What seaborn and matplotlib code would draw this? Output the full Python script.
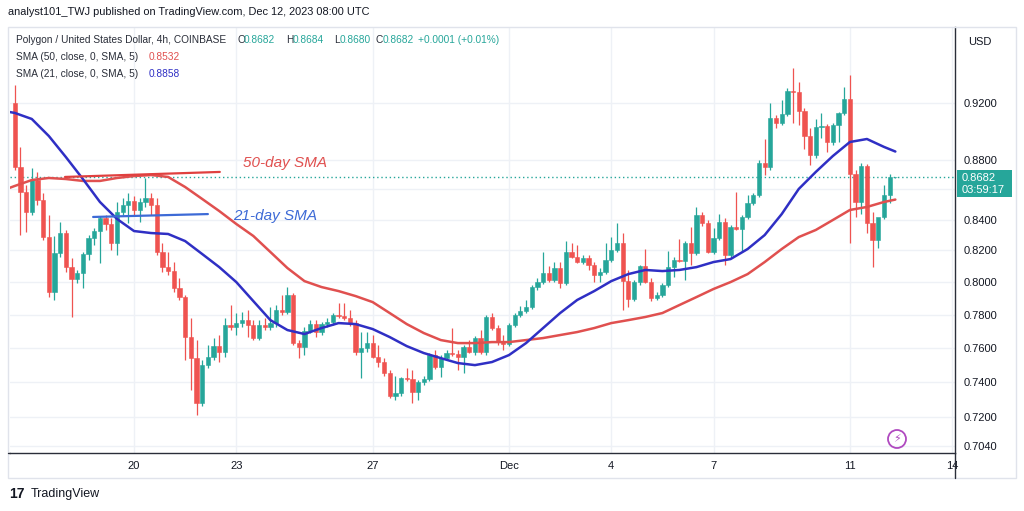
import numpy as np
import pandas as pd
import matplotlib
matplotlib.use("Agg")
import matplotlib.pyplot as plt
import seaborn as sns
from matplotlib.patches import Rectangle, Ellipse
from matplotlib.lines import Line2D

sns.set_theme(style="white")
plt.rcParams['font.family'] = ['Liberation Sans', 'DejaVu Sans']

# ---------------- data (4h candles, MATIC/USD) ----------------
open_ = [0.9200, 0.8752, 0.8583, 0.8450, 0.8663, 0.8529, 0.8286, 0.7938, 0.8183, 0.8312,
         0.8094, 0.8019, 0.8057, 0.8177, 0.8280, 0.8325, 0.8410, 0.8371, 0.8248, 0.8450,
         0.8496, 0.8522, 0.8463, 0.8516, 0.8542, 0.8496, 0.8190, 0.8094, 0.8069, 0.7963,
         0.7907, 0.7664, 0.7539, 0.7279, 0.7498, 0.7545, 0.7610, 0.7575, 0.7736, 0.7724,
         0.7748, 0.7766, 0.7736, 0.7658, 0.7736, 0.7724, 0.7748, 0.7827, 0.7815, 0.7920,
         0.7628, 0.7604, 0.7700, 0.7742, 0.7694, 0.7742, 0.7754, 0.7797, 0.7791, 0.7779,
         0.7748, 0.7575, 0.7599, 0.7628, 0.7545, 0.7516, 0.7452, 0.7319, 0.7336, 0.7423,
         0.7417, 0.7342, 0.7399, 0.7417, 0.7557, 0.7487, 0.7539, 0.7569, 0.7563, 0.7545,
         0.7604, 0.7575, 0.7658, 0.7575, 0.7785, 0.7718, 0.7634, 0.7622, 0.7736, 0.7797,
         0.7821, 0.7846, 0.7969, 0.8000, 0.8057, 0.8013, 0.8088, 0.7994, 0.8190, 0.8158,
         0.8126, 0.8152, 0.8107, 0.8044, 0.8063, 0.8139, 0.8203, 0.8248, 0.8006, 0.7895,
         0.8000, 0.8101, 0.8000, 0.7901, 0.7920, 0.7982, 0.8094, 0.8139, 0.8132, 0.8248,
         0.8183, 0.8430, 0.8377, 0.8190, 0.8280, 0.8384, 0.8171, 0.8351, 0.8338, 0.8417,
         0.8509, 0.8562, 0.8779, 0.8752, 0.9093, 0.9058, 0.9121, 0.9287, 0.9279, 0.9143,
         0.8966, 0.8834, 0.9029, 0.9036, 0.8924, 0.9043, 0.9129, 0.9229, 0.8704, 0.8516,
         0.8759, 0.8377, 0.8267, 0.8417, 0.8562, 0.8682]
high_ = [0.9330, 0.8890, 0.8630, 0.8745, 0.8718, 0.8576, 0.8430, 0.8293, 0.8384, 0.8332,
         0.8152, 0.8076, 0.8190, 0.8299, 0.8345, 0.8423, 0.8430, 0.8410, 0.8516, 0.8542,
         0.8576, 0.8556, 0.8542, 0.8677, 0.8576, 0.8542, 0.8248, 0.8190, 0.8126, 0.8025,
         0.7920, 0.7779, 0.7646, 0.7528, 0.7616, 0.7658, 0.7676, 0.7779, 0.7858, 0.7809,
         0.7815, 0.7827, 0.7766, 0.7766, 0.7779, 0.7846, 0.7858, 0.7920, 0.7969, 0.7932,
         0.7646, 0.7724, 0.7766, 0.7766, 0.7754, 0.7779, 0.7809, 0.7870, 0.7870, 0.7827,
         0.7766, 0.7694, 0.7694, 0.7676, 0.7616, 0.7539, 0.7469, 0.7434, 0.7428, 0.7481,
         0.7469, 0.7411, 0.7434, 0.7569, 0.7587, 0.7557, 0.7587, 0.7718, 0.7587, 0.7616,
         0.7646, 0.7670, 0.7706, 0.7797, 0.7809, 0.7736, 0.7676, 0.7748, 0.7809, 0.7852,
         0.7889, 0.7982, 0.8025, 0.8190, 0.8101, 0.8126, 0.8126, 0.8260, 0.8248, 0.8235,
         0.8171, 0.8171, 0.8126, 0.8088, 0.8248, 0.8286, 0.8377, 0.8312, 0.8076, 0.8013,
         0.8107, 0.8209, 0.8025, 0.7938, 0.7994, 0.8196, 0.8158, 0.8273, 0.8260, 0.8351,
         0.8483, 0.8450, 0.8397, 0.8345, 0.8436, 0.8410, 0.8364, 0.8583, 0.8430, 0.8562,
         0.8576, 0.8800, 0.8945, 0.9200, 0.9114, 0.9222, 0.9308, 0.9455, 0.9352, 0.9164,
         0.9022, 0.9086, 0.9129, 0.9050, 0.9058, 0.9136, 0.9316, 0.9403, 0.8731, 0.8779,
         0.8772, 0.8450, 0.8299, 0.8630, 0.8704, 0.8684]
low_ = [0.8731, 0.8299, 0.8319, 0.8430, 0.8496, 0.8267, 0.7907, 0.7889, 0.8158, 0.8063,
        0.7785, 0.7994, 0.7963, 0.8139, 0.8235, 0.8120, 0.8332, 0.8203, 0.8171, 0.8430,
        0.8377, 0.8430, 0.8384, 0.8483, 0.8430, 0.8171, 0.8063, 0.8044, 0.7938, 0.7889,
        0.7528, 0.7353, 0.7211, 0.7262, 0.7481, 0.7528, 0.7516, 0.7545, 0.7706, 0.7676,
        0.7724, 0.7664, 0.7646, 0.7646, 0.7706, 0.7706, 0.7724, 0.7797, 0.7803, 0.7616,
        0.7539, 0.7557, 0.7688, 0.7664, 0.7676, 0.7724, 0.7736, 0.7779, 0.7766, 0.7730,
        0.7557, 0.7423, 0.7575, 0.7539, 0.7487, 0.7434, 0.7308, 0.7296, 0.7319, 0.7405,
        0.7279, 0.7296, 0.7382, 0.7405, 0.7475, 0.7428, 0.7528, 0.7551, 0.7469, 0.7452,
        0.7569, 0.7557, 0.7563, 0.7557, 0.7706, 0.7616, 0.7587, 0.7610, 0.7724, 0.7785,
        0.7809, 0.7833, 0.7950, 0.7988, 0.8000, 0.8000, 0.7963, 0.7982, 0.8152, 0.8120,
        0.8113, 0.8076, 0.8000, 0.8000, 0.8050, 0.8126, 0.8190, 0.7827, 0.7846, 0.7882,
        0.7982, 0.7994, 0.7882, 0.7889, 0.7907, 0.7969, 0.8032, 0.8126, 0.8013, 0.8107,
        0.8171, 0.8358, 0.8183, 0.8177, 0.8267, 0.8107, 0.8152, 0.8332, 0.8190, 0.8404,
        0.8496, 0.8549, 0.8697, 0.8731, 0.9022, 0.9043, 0.9107, 0.9058, 0.9043, 0.8876,
        0.8765, 0.8813, 0.8952, 0.8855, 0.8903, 0.8924, 0.9114, 0.8248, 0.8417, 0.8436,
        0.8312, 0.8094, 0.8216, 0.8404, 0.8509, 0.8680]
close_ = [0.8752, 0.8583, 0.8450, 0.8663, 0.8529, 0.8286, 0.7938, 0.8183, 0.8312, 0.8094,
          0.8019, 0.8057, 0.8177, 0.8280, 0.8325, 0.8410, 0.8371, 0.8248, 0.8450, 0.8496,
          0.8522, 0.8463, 0.8516, 0.8542, 0.8496, 0.8190, 0.8094, 0.8069, 0.7963, 0.7907,
          0.7664, 0.7539, 0.7279, 0.7498, 0.7545, 0.7610, 0.7575, 0.7736, 0.7724, 0.7748,
          0.7766, 0.7736, 0.7658, 0.7736, 0.7724, 0.7748, 0.7827, 0.7815, 0.7920, 0.7628,
          0.7604, 0.7700, 0.7742, 0.7694, 0.7742, 0.7754, 0.7797, 0.7791, 0.7779, 0.7748,
          0.7575, 0.7599, 0.7628, 0.7545, 0.7516, 0.7452, 0.7319, 0.7336, 0.7423, 0.7417,
          0.7342, 0.7399, 0.7417, 0.7557, 0.7487, 0.7539, 0.7569, 0.7563, 0.7545, 0.7604,
          0.7575, 0.7658, 0.7575, 0.7785, 0.7718, 0.7634, 0.7622, 0.7736, 0.7797, 0.7821,
          0.7846, 0.7969, 0.8000, 0.8057, 0.8013, 0.8088, 0.7994, 0.8190, 0.8158, 0.8126,
          0.8152, 0.8107, 0.8044, 0.8063, 0.8139, 0.8203, 0.8248, 0.8006, 0.7895, 0.8000,
          0.8101, 0.8000, 0.7901, 0.7920, 0.7982, 0.8094, 0.8139, 0.8132, 0.8248, 0.8183,
          0.8430, 0.8377, 0.8190, 0.8280, 0.8384, 0.8171, 0.8351, 0.8338, 0.8417, 0.8509,
          0.8562, 0.8779, 0.8752, 0.9093, 0.9058, 0.9121, 0.9287, 0.9279, 0.9143, 0.8966,
          0.8834, 0.9029, 0.9036, 0.8924, 0.9043, 0.9129, 0.9229, 0.8704, 0.8516, 0.8759,
          0.8377, 0.8267, 0.8417, 0.8562, 0.8682, 0.8682]

# moving averages (candle index -> value)
sma_idx = [-1, 0, 3, 6, 9, 12, 15, 18, 21, 24, 27, 30, 33, 36, 39, 42, 45, 48, 51, 54,
           57, 60, 63, 66, 69, 72, 75, 78, 81, 84, 87, 90, 93, 96, 99, 102, 105, 108, 111,
           114, 117, 120, 123, 126, 129, 132, 135, 138, 141, 144, 147, 150, 153, 155]
sma21 = [0.9136, 0.9129, 0.9086, 0.8966, 0.8820, 0.8670, 0.8516, 0.8404, 0.8325, 0.8312,
         0.8306, 0.8260, 0.8177, 0.8094, 0.8000, 0.7882, 0.7766, 0.7706, 0.7682, 0.7718,
         0.7748, 0.7742, 0.7712, 0.7664, 0.7610, 0.7569, 0.7539, 0.7510, 0.7498, 0.7516,
         0.7557, 0.7628, 0.7718, 0.7809, 0.7889, 0.7944, 0.8006, 0.8050, 0.8076, 0.8069,
         0.8076, 0.8094, 0.8126, 0.8145, 0.8209, 0.8299, 0.8436, 0.8603, 0.8718, 0.8827,
         0.8924, 0.8945, 0.8890, 0.8858]
sma50 = [0.8609, 0.8623, 0.8663, 0.8677, 0.8670, 0.8657, 0.8657, 0.8677, 0.8690, 0.8697,
         0.8684, 0.8616, 0.8536, 0.8456, 0.8371, 0.8293, 0.8190, 0.8088, 0.8006, 0.7969,
         0.7944, 0.7913, 0.7876, 0.7809, 0.7742, 0.7688, 0.7646, 0.7628, 0.7628, 0.7634,
         0.7634, 0.7646, 0.7658, 0.7676, 0.7694, 0.7718, 0.7748, 0.7766, 0.7785, 0.7809,
         0.7858, 0.7907, 0.7957, 0.8000, 0.8050, 0.8126, 0.8209, 0.8286, 0.8332, 0.8397,
         0.8463, 0.8483, 0.8516, 0.8532]

# hand-drawn annotation lines (candle index, price)
ann50_x = [8.85, 36.1]
ann50_y = [0.8684, 0.8718]
ann21_x = [13.8, 34.0]
ann21_y = [0.8417, 0.8436]

date_ticks = [21, 39, 63, 87, 105, 123, 147, 165]
date_labels = ["20", "23", "27", "Dec", "4", "7", "11", "14"]
price_ticks = [0.7040, 0.72, 0.74, 0.76, 0.78, 0.80, 0.82, 0.84, 0.86, 0.88, 0.92]
price_labels = ["0.7040", "0.7200", "0.7400", "0.7600", "0.7800", "0.8000",
                "0.8200", "0.8400", "", "0.8800", "0.9200"]
last_price = 0.8682

# ---------------- styling ----------------
UP = "#26a69a"
DN = "#ef5350"
RED = "#e0504f"
BLUE = "#2f2fc4"
ANN_BLUE = "#3d6ad6"
TXT = "#131722"
LEG = "#2a2e39"
GRID = "#eef1f6"

W, H = 1024, 511
fig = plt.figure(figsize=(W / 100, H / 100), dpi=100)
fig.patch.set_facecolor("white")


def fx(px):
    return px / W


def fy(py):
    return 1 - py / H


ax = fig.add_axes([fx(10), fy(453), fx(955) - fx(10), fy(27) - fy(453)])
ax.set_facecolor("white")
ax.set_yscale("log")

idx = np.arange(len(close_))
o = np.array(open_)
h = np.array(high_)
l = np.array(low_)
c = np.array(close_)
cols = np.where(c >= o, UP, DN)

# grid
for t in price_ticks:
    ax.axhline(t, color=GRID, lw=1, zorder=0)
for t in date_ticks:
    ax.axvline(t, color=GRID, lw=1, zorder=0)

# candles
ax.vlines(idx, l, h, colors=cols, lw=0.9, zorder=3)
ax.bar(idx, np.abs(c - o), bottom=np.minimum(o, c), width=0.75, color=cols,
       edgecolor=cols, linewidth=0.4, zorder=4)

# moving averages with seaborn
df = pd.DataFrame({"i": sma_idx, "sma50": sma50, "sma21": sma21})
sns.lineplot(data=df, x="i", y="sma50", ax=ax, color=RED, lw=1.8, zorder=6)
sns.lineplot(data=df, x="i", y="sma21", ax=ax, color=BLUE, lw=1.8, zorder=6)

# annotations
ax.plot(ann50_x, ann50_y, color="#e0403f", lw=1.6, zorder=7)
ax.plot(ann21_x, ann21_y, color=ANN_BLUE, lw=1.6, zorder=7)
ax.text(40.2, 0.8779, "50-day SMA", color="#e0504f", fontsize=11, style="italic",
        va="center", ha="left", zorder=8)
ax.text(38.4, 0.8424, "21-day SMA", color=ANN_BLUE, fontsize=11, style="italic",
        va="center", ha="left", zorder=8)

# last price dotted line
ax.axhline(last_price, color=UP, lw=1, ls=(0, (1, 2)), zorder=2)

ax.set_xlim(-0.83, 165.5)
ax.set_ylim(0.7001, 0.9762)
ax.set_xlabel("")
ax.set_ylabel("")

ax.yaxis.tick_right()
ax.yaxis.set_major_locator(matplotlib.ticker.FixedLocator(price_ticks))
ax.yaxis.set_major_formatter(matplotlib.ticker.FixedFormatter(price_labels))
ax.yaxis.set_minor_locator(matplotlib.ticker.NullLocator())
ax.set_xticks(date_ticks)
ax.set_xticklabels(date_labels)
ax.tick_params(axis="y", length=0, pad=6, labelsize=8, colors=TXT)
ax.tick_params(axis="x", length=0, pad=6, labelsize=8, colors=TXT)
for s in ["left", "top"]:
    ax.spines[s].set_visible(False)
ax.spines["bottom"].set_color(LEG)
ax.spines["bottom"].set_linewidth(1)
ax.spines["right"].set_color(LEG)
ax.spines["right"].set_linewidth(1)

# outer frame and axis extensions
fig.add_artist(Rectangle((fx(8), fy(478)), fx(1016) - fx(8), fy(27) - fy(478),
                         transform=fig.transFigure, fill=False, edgecolor="#e0e3eb", lw=1))
fig.add_artist(Line2D([fx(955), fx(955)], [fy(478), fy(453)], transform=fig.transFigure,
                      color=LEG, lw=1))
fig.add_artist(Line2D([fx(8), fx(10)], [fy(453), fy(453)], transform=fig.transFigure,
                      color=LEG, lw=1))

# header texts
fig.text(fx(8), fy(12), "analyst101_TWJ published on TradingView.com, Dec 12, 2023 08:00 UTC",
         fontsize=7.9, color=TXT, va="center", ha="left")
FS = 7.3
row1 = fy(40)
fig.text(fx(16), row1, "Polygon / United States Dollar, 4h, COINBASE", fontsize=FS,
         color=LEG, va="center")
for lab, xl, val, xv in [("O", 237, "0.8682", 244), ("H", 286, "0.8684", 293),
                         ("L", 334, "0.8680", 340), ("C", 376, "0.8682", 383)]:
    fig.text(fx(xl), row1, lab, fontsize=FS, color=LEG, va="center")
    fig.text(fx(xv), row1, val, fontsize=FS, color=UP, va="center")
fig.text(fx(418), row1, "+0.0001 (+0.01%)", fontsize=FS, color=UP, va="center")
fig.text(fx(16), fy(57), "SMA (50, close, 0, SMA, 5)", fontsize=FS, color=LEG, va="center")
fig.text(fx(149), fy(57), "0.8532", fontsize=FS, color=RED, va="center")
fig.text(fx(16), fy(74), "SMA (21, close, 0, SMA, 5)", fontsize=FS, color=LEG, va="center")
fig.text(fx(149), fy(74), "0.8858", fontsize=FS, color=BLUE, va="center")

fig.text(fx(968), fy(42), "USD", fontsize=8, color=TXT, va="center")

# last price box
fig.add_artist(Rectangle((fx(957), fy(197)), fx(1012) - fx(957), fy(170) - fy(197),
                         transform=fig.transFigure, facecolor=UP, edgecolor=UP, lw=0))
fig.text(fx(962), fy(178), "0.8682", fontsize=8, color="white", va="center")
fig.text(fx(962), fy(190), "03:59:17", fontsize=8, color="white", va="center")

# lightning icon
fig.add_artist(Ellipse((fx(897), fy(439)), 18 / W, 18 / H, transform=fig.transFigure,
                       fill=False, edgecolor="#b04ac0", lw=1.3))
fig.text(fx(897), fy(439), "\u26A1", fontsize=8, color="#b04ac0", ha="center", va="center",
         family=["DejaVu Sans"])

# footer logo
fig.text(fx(9), fy(494), "17", fontsize=10, fontweight="bold", color=TXT, va="center")
fig.text(fx(31), fy(494), "TradingView", fontsize=9, color=TXT, va="center")

fig.savefig("out.png", dpi=100, facecolor="white")
